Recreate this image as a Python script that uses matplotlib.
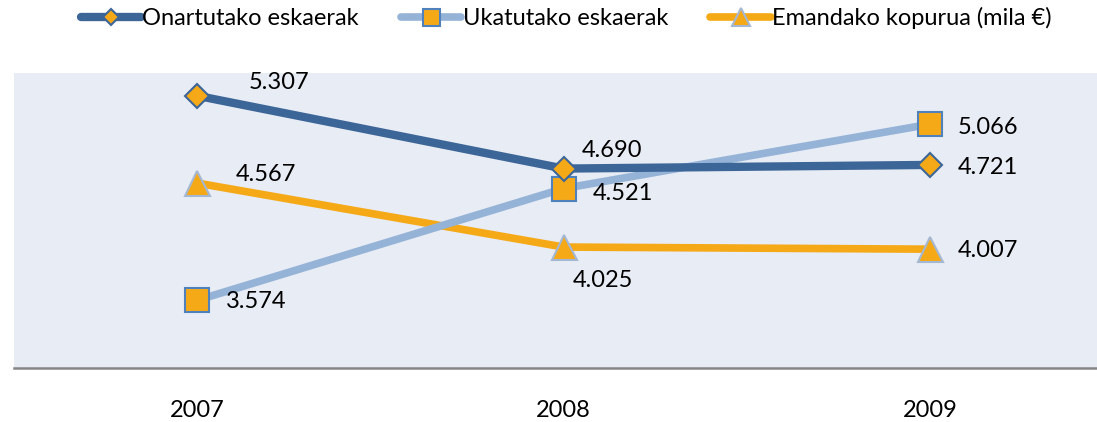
import matplotlib
matplotlib.use("Agg")
import matplotlib.pyplot as plt

plt.rcParams['font.family'] = ['Lato', 'DejaVu Sans']

years = ['2007', '2008', '2009']
onartutako = [5.307, 4.690, 4.721]
ukatutako = [3.574, 4.521, 5.066]
emandako = [4.567, 4.025, 4.007]
names = ['Onartutako eskaerak', 'Ukatutako eskaerak', 'Emandako kopurua (mila €)']

# label offsets in pixels (dx, dy) from each point
off_on = [(52, 13), (18, 18), (28, -3)]
off_uk = [(29, -1), (29, -5), (28, -3)]
off_em = [(39, 9), (9, -33), (28, -1)]

dark = '#3D6698'
light = '#95B3D7'
orange = '#F6A917'

fig = plt.figure(figsize=(10.97, 4.22), dpi=100)
ax = fig.add_axes([14/1097, 54/422, 1 - 14/1097, 295/422])
ax.set_facecolor('#E8ECF4')

x = range(len(years))
l1, = ax.plot(x, onartutako, color=dark, lw=6, marker='D', ms=12,
              mfc=orange, mec=dark, mew=1.5, solid_capstyle='round', label=names[0], zorder=3)
l2, = ax.plot(x, ukatutako, color=light, lw=5.5, marker='s', ms=17,
              mfc=orange, mec='#4F81BD', mew=1.5, solid_capstyle='round', label=names[1], zorder=2)
l3, = ax.plot(x, emandako, color=orange, lw=5.5, marker='^', ms=18,
              mfc=orange, mec='#A5B8D3', mew=1.5, solid_capstyle='round', label=names[2], zorder=1)

for vals, offs in [(onartutako, off_on), (ukatutako, off_uk), (emandako, off_em)]:
    for i, (v, o) in enumerate(zip(vals, offs)):
        ax.annotate(f'{v:.3f}', (i, v), xytext=o, textcoords='offset pixels',
                    ha='left', va='center', fontsize=17, color='black', zorder=5)

ax.set_xlim(-0.5, 2.456)
ax.set_ylim(3.0, 5.5)
ax.set_yticks([])
ax.set_xticks(list(x))
ax.set_xticklabels(years, fontsize=17)
ax.tick_params(axis='x', length=0, pad=23)
for s in ['top', 'left', 'right']:
    ax.spines[s].set_visible(False)
ax.spines['bottom'].set_color('#868686')
ax.spines['bottom'].set_linewidth(1.8)

fig.legend(handles=[l1, l2, l3], loc='center', bbox_to_anchor=(0.516, 1 - 18/422),
           ncol=3, frameon=False, fontsize=17, handlelength=2.55, handletextpad=0.05,
           columnspacing=1.8, markerscale=0.72)

plt.savefig('out.png', dpi=100)
